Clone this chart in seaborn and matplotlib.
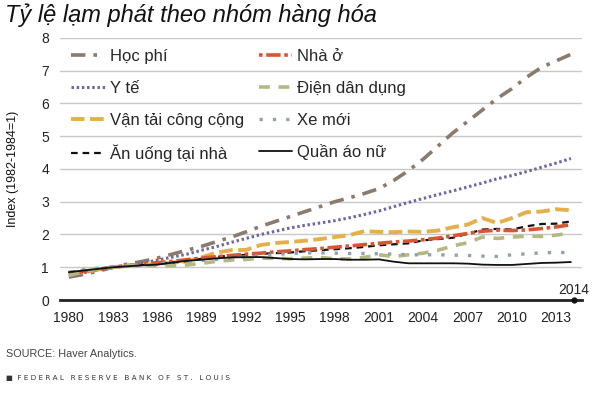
import numpy as np
import pandas as pd
import seaborn as sns
import matplotlib.pyplot as plt

# Dữ liệu (chỉ số, 1982-1984 = 1)
years = list(range(1980, 2015))

hoc_phi = [0.70, 0.78, 0.88, 1.00, 1.10, 1.18, 1.28, 1.40, 1.52, 1.64,
           1.78, 1.92, 2.08, 2.25, 2.40, 2.55, 2.70, 2.85, 3.00, 3.12,
           3.25, 3.40, 3.65, 3.95, 4.30, 4.70, 5.10, 5.45, 5.80, 6.15,
           6.45, 6.80, 7.10, 7.30, 7.50]
y_te = [0.75, 0.83, 0.93, 1.00, 1.06, 1.13, 1.22, 1.31, 1.40, 1.52,
        1.63, 1.76, 1.88, 2.00, 2.10, 2.20, 2.28, 2.35, 2.42, 2.51,
        2.61, 2.72, 2.85, 2.98, 3.10, 3.22, 3.33, 3.45, 3.57, 3.70,
        3.80, 3.92, 4.05, 4.18, 4.32]
van_tai = [0.80, 0.85, 0.93, 1.00, 1.05, 1.08, 1.10, 1.14, 1.18, 1.30,
           1.45, 1.52, 1.53, 1.68, 1.74, 1.77, 1.81, 1.86, 1.92, 1.98,
           2.10, 2.08, 2.07, 2.09, 2.08, 2.12, 2.22, 2.30, 2.50, 2.35,
           2.50, 2.68, 2.70, 2.77, 2.74]
an_uong = [0.85, 0.90, 0.96, 1.00, 1.04, 1.07, 1.10, 1.14, 1.19, 1.26,
           1.32, 1.35, 1.38, 1.41, 1.43, 1.45, 1.49, 1.52, 1.55, 1.58,
           1.62, 1.67, 1.70, 1.73, 1.82, 1.86, 1.90, 2.02, 2.15, 2.17,
           2.15, 2.25, 2.32, 2.33, 2.40]
nha_o = [0.80, 0.87, 0.94, 1.00, 1.05, 1.10, 1.14, 1.18, 1.23, 1.28,
         1.32, 1.36, 1.40, 1.43, 1.47, 1.50, 1.54, 1.57, 1.61, 1.65,
         1.69, 1.73, 1.77, 1.80, 1.84, 1.89, 1.96, 2.03, 2.10, 2.13,
         2.12, 2.14, 2.18, 2.23, 2.30]
dien = [0.75, 0.87, 0.96, 1.00, 1.05, 1.07, 1.04, 1.04, 1.07, 1.12,
        1.18, 1.22, 1.24, 1.28, 1.27, 1.26, 1.28, 1.30, 1.26, 1.25,
        1.30, 1.38, 1.33, 1.38, 1.43, 1.52, 1.65, 1.75, 1.92, 1.88,
        1.92, 1.95, 1.94, 1.98, 2.05]
xe_moi = [0.85, 0.93, 0.97, 1.00, 1.03, 1.06, 1.10, 1.14, 1.18, 1.21,
          1.24, 1.28, 1.32, 1.35, 1.39, 1.42, 1.44, 1.44, 1.43, 1.42,
          1.42, 1.41, 1.40, 1.38, 1.38, 1.38, 1.37, 1.36, 1.34, 1.33,
          1.38, 1.41, 1.44, 1.45, 1.45]
quan_ao = [0.85, 0.90, 0.95, 1.00, 1.03, 1.06, 1.08, 1.14, 1.20, 1.23,
           1.27, 1.30, 1.31, 1.31, 1.28, 1.25, 1.24, 1.25, 1.25, 1.23,
           1.23, 1.24, 1.17, 1.12, 1.12, 1.12, 1.12, 1.11, 1.08, 1.07,
           1.07, 1.10, 1.13, 1.14, 1.16]

xticks = list(range(1980, 2014, 3))
yticks = list(range(0, 9))

# thứ tự theo cột của chú giải
series = [
    ("Học phí", hoc_phi, "#8a7b6e", (0, (4, 2.2, 1, 2.2)), 2.6),
    ("Y tế", y_te, "#6f659f", (0, (0.8, 0.9)), 2.2),
    ("Vận tải công cộng", van_tai, "#e5b04a", (0, (3.5, 1.4)), 2.8),
    ("Ăn uống tại nhà", an_uong, "#111111", (0, (3, 2.2)), 1.6),
    ("Nhà ở", nha_o, "#d85632", (0, (1, 1, 4, 1)), 2.6),
    ("Điện dân dụng", dien, "#b4b984", (0, (3, 2.4)), 2.6),
    ("Xe mới", xe_moi, "#8ea4ae", (0, (1, 3)), 2.4),
    ("Quần áo nữ", quan_ao, "#111111", "-", 1.3),
]

sns.set_style("white")
plt.rcParams['font.family'] = ['Liberation Sans', 'DejaVu Sans']

fig = plt.figure(figsize=(6, 3.95), dpi=100)
ax = fig.add_axes([0.10, 0.2405, 0.87, 0.6635])

for name, vals, col, ls, lw in series:
    df = pd.DataFrame({"year": years, "value": vals})
    sns.lineplot(data=df, x="year", y="value", ax=ax, color=col,
                 linestyle=ls, linewidth=lw, label=name)

ax.set_xlim(1979.4, 2014.75)
ax.set_ylim(0, 8)
ax.set_xticks(xticks)
ax.set_yticks(yticks)
ax.tick_params(axis='x', direction='out', length=4, width=1, colors='#222222',
               labelsize=10, pad=4)
ax.tick_params(axis='y', length=0, labelsize=10, labelcolor='#222222', pad=8)
ax.yaxis.grid(True, color='#c8c8c8', linewidth=1)
ax.set_axisbelow(True)
for s in ['top', 'right', 'left']:
    ax.spines[s].set_visible(False)
ax.spines['bottom'].set_linewidth(2)
ax.spines['bottom'].set_color('#222222')
ax.set_xlabel("")
ax.set_ylabel("Index (1982-1984=1)", fontsize=9, color='#111111', labelpad=16)

# điểm đánh dấu năm 2014
ax.plot([2014.2], [0], 'o', color='#111111', ms=3.5, clip_on=False, zorder=5)
ax.text(2014.2, 0.1, "2014", ha='center', va='bottom', fontsize=10, color='#222222')

ax.legend(ncol=2, loc='upper left', bbox_to_anchor=(0.0, 1.0), frameon=False,
          fontsize=12, handlelength=2.0, handletextpad=0.3, labelspacing=1.0,
          columnspacing=0.9, borderaxespad=0.28)

fig.text(0.008, 0.962, "Tỷ lệ lạm phát theo nhóm hàng hóa", fontsize=17,
         style='italic', va='center', ha='left', color='#111111')
fig.text(0.010, 0.105, "SOURCE: Haver Analytics.", fontsize=7.8, color='#444444',
         va='center')
fig.text(0.010, 0.043, "■  F E D E R A L   R E S E R V E   B A N K   O F   S T .   L O U I S",
         fontsize=5.2, color='#333333', va='center', family='DejaVu Sans')

fig.savefig("out.png", dpi=100)
